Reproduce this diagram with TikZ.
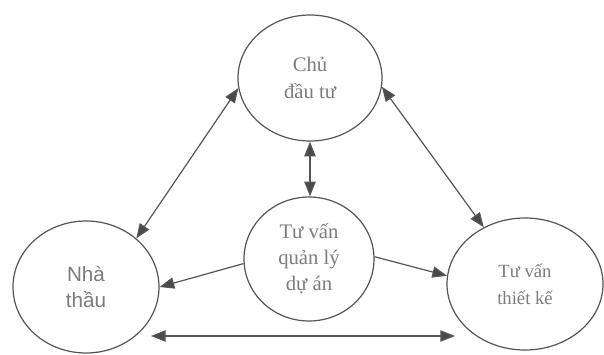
\documentclass[tikz,border=0pt]{standalone}
\usepackage{fontspec}
\setmainfont{Liberation Serif}
\newfontfamily\sansvn{Liberation Sans}
\usetikzlibrary{shapes.geometric,arrows.meta}
\definecolor{linegray}{HTML}{555555}
\definecolor{tipgray}{HTML}{4A4A4A}
\definecolor{textgray}{HTML}{7C7C7C}
\begin{document}
\begin{tikzpicture}[x=0.75pt,y=-0.75pt,
  role/.style={ellipse, draw=linegray, line width=0.9pt, text=textgray, align=center, inner sep=0pt},
  link/.style={draw=linegray, line width=0.9pt, {Triangle[length=11pt,width=8.5pt,fill=tipgray]}-{Triangle[length=11pt,width=8.5pt,fill=tipgray]}},
  onelink/.style={draw=linegray, line width=0.9pt, -{Triangle[length=11pt,width=8.5pt,fill=tipgray]}}]
\useasboundingbox[fill=white] (0,0) rectangle (604,354);

\node[role, minimum width=108pt, minimum height=94.5pt, font=\fontsize{15.5}{20}\selectfont] (owner) at (310,78) {Chủ\\đầu tư};
\node[role, minimum width=109.5pt, minimum height=99pt, font=\sansvn\fontsize{15.5}{20}\selectfont] (contractor) at (86,287) {Nhà\\thầu};
\node[role, minimum width=97.5pt, minimum height=93pt, font=\fontsize{15.5}{19.5}\selectfont] (pm) at (309,259) {Tư vấn\\quản lý\\dự án};
\node[role, minimum width=117pt, minimum height=99pt, font=\fontsize{14}{20}\selectfont] (design) at (525,284) {Tư vấn\\thiết kế};

\draw[link] (owner.188) -- (contractor.44);
\draw[link] (owner.353) -- (design.126);
\draw[link] (owner.south) -- (owner.south |- pm.north);
\draw[onelink] (pm.184) -- (contractor.0);
\draw[onelink] (pm.2) -- (design.174);

\coordinate (hl) at (151,336);
\coordinate (hr) at (455,336);
\draw[link] (hl) -- (hr);
\end{tikzpicture}
\end{document}
